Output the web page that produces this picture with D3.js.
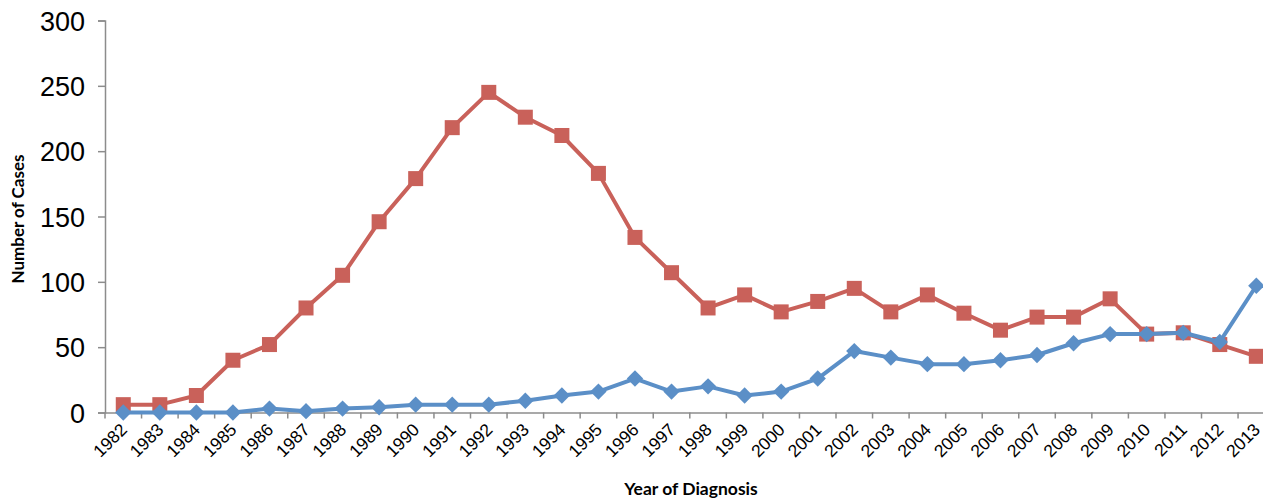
<!DOCTYPE html>
<html><head><meta charset="utf-8">
<script src="https://cdn.jsdelivr.net/npm/d3@7"></script>
<style>body{margin:0;background:#fff}svg{display:block}</style>
</head><body><svg id="c" width="1263" height="498"></svg>
<script>
const years = ["1982","1983","1984","1985","1986","1987","1988","1989","1990","1991","1992","1993","1994","1995","1996","1997","1998","1999","2000","2001","2002","2003","2004","2005","2006","2007","2008","2009","2010","2011","2012","2013"];
const redSeries = [6,6,13,40,52,80,105,146,179,218,245,226,212,183,134,107,80,90,77,85,95,77,90,76,63,73,73,87,60,61,52,43];
const blueSeries = [0,0,0,0,3,1,3,4,6,6,6,9,13,16,26,16,20,13,16,26,47,42,37,37,40,44,53,60,60,61,54,97];
const yTicks = [0,50,100,150,200,250,300];

const svg = d3.select("#c");
const mLeft = 105, mRight = 1274.6, mTop = 20.5, mBottom = 412.5;
const x = d3.scaleBand().domain(years).range([mLeft, mRight]);
const y = d3.scaleLinear().domain([0,300]).range([mBottom, mTop]);
const axisColor = "#8c8c8c";

// y axis
const ya = svg.append("g").attr("transform", `translate(${mLeft},0)`)
  .call(d3.axisLeft(y).tickValues(yTicks).tickSize(7).tickPadding(13));
ya.select(".domain").attr("stroke", axisColor).attr("stroke-width", 1.5);
ya.selectAll(".tick line").attr("stroke", axisColor).attr("stroke-width", 1.5);
ya.selectAll(".tick text").attr("font-family", "Liberation Sans, Arial, sans-serif")
  .attr("font-size", 27).attr("fill", "#000").attr("dy", "0.36em");

// x axis
const xa = svg.append("g").attr("transform", `translate(0,${mBottom})`)
  .call(d3.axisBottom(x).tickSize(0).tickSizeOuter(0));
xa.select(".domain").attr("stroke", axisColor).attr("stroke-width", 1.5);
xa.selectAll(".tick line").remove();
xa.selectAll(".tick text")
  .attr("font-family", "Liberation Sans, Arial, sans-serif")
  .attr("font-size", 17.5).attr("fill", "#000")
  .attr("text-anchor", "end")
  .attr("x", 0).attr("y", 0)
  .attr("dy", "0.35em")
  .attr("transform", "translate(0.5,14) rotate(-45)");
// boundary ticks between categories
const bounds = years.map(d => x(d)).concat([mRight]);
svg.append("g").selectAll("line").data(bounds).join("line")
  .attr("x1", d => d).attr("x2", d => d)
  .attr("y1", mBottom).attr("y2", mBottom + 6)
  .attr("stroke", axisColor).attr("stroke-width", 1.5);

const cx = d => x(d) + x.bandwidth()/2;
const line = d3.line().x((d,i) => cx(years[i])).y(d => y(d));

const red = "#c9615a", blue = "#5b8fc7";

svg.append("path").datum(redSeries).attr("d", line)
  .attr("fill", "none").attr("stroke", red).attr("stroke-width", 4).attr("stroke-linejoin", "round");
svg.append("g").selectAll("rect").data(redSeries).join("rect")
  .attr("x", (d,i) => cx(years[i]) - 7.5).attr("y", d => y(d) - 7.5)
  .attr("width", 15).attr("height", 15).attr("fill", red);

svg.append("path").datum(blueSeries).attr("d", line)
  .attr("fill", "none").attr("stroke", blue).attr("stroke-width", 4).attr("stroke-linejoin", "round");
svg.append("g").selectAll("path.m").data(blueSeries).join("path")
  .attr("class", "m")
  .attr("d", d3.symbol().type(d3.symbolDiamond2).size(170))
  .attr("transform", (d,i) => `translate(${cx(years[i])},${y(d)})`)
  .attr("fill", blue);

// axis titles
svg.append("text").attr("x", 691).attr("y", 495)
  .attr("text-anchor", "middle").attr("font-family", "Lato, Open Sans, sans-serif")
  .attr("font-weight", "bold").attr("font-size", 17.5).text("Year of Diagnosis");
svg.append("text").attr("transform", "translate(24,219) rotate(-90)")
  .attr("text-anchor", "middle").attr("font-family", "Lato, Open Sans, sans-serif")
  .attr("font-weight", "bold").attr("font-size", 17).text("Number of Cases");
</script></body></html>
